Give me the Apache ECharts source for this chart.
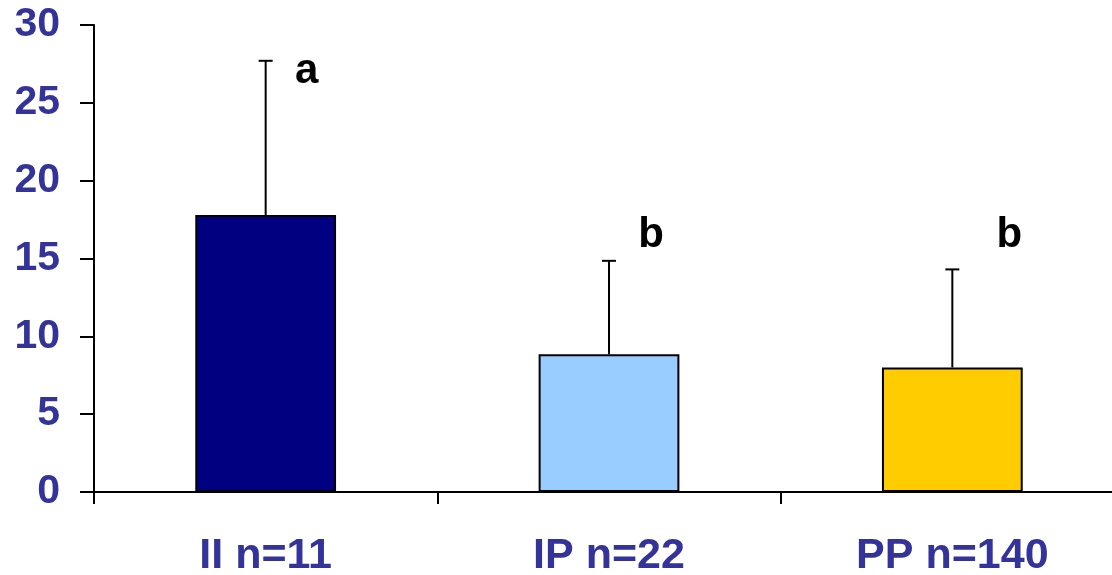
<!DOCTYPE html>
<html>
<head>
<meta charset="utf-8">
<script src="https://cdn.jsdelivr.net/npm/echarts@6/dist/echarts.min.js"></script>
<style>
  html, body { margin: 0; padding: 0; background: #fff; }
  #chart { width: 1112px; height: 575px; }
</style>
</head>
<body>
<div id="chart"></div>
<script>
// 数据
const categories = ['II n=11', 'IP n=22', 'PP n=140'];
const means = [17.8, 8.85, 8.0];
const sdUpper = [27.7, 14.85, 14.3];
const barColors = ['#000080', '#99CCFF', '#FFCC00'];
const letters = ['a', 'b', 'b'];
const letterY = [27.0, 16.5, 16.5];
const yTicks = [0, 5, 10, 15, 20, 25, 30];

const chart = echarts.init(document.getElementById('chart'));

// 字母标注的水平偏移（像素）
const letterDx = [41, 42, 57];

chart.setOption({
  animation: false,
  grid: {
    left: 94,
    right: -12,
    top: 25,
    bottom: 83,
    outerBoundsMode: 'none'
  },
  xAxis: {
    type: 'category',
    data: categories,
    axisLine: { lineStyle: { color: '#000', width: 2 } },
    axisTick: { show: true, length: 12, lineStyle: { color: '#000', width: 2 } },
    axisLabel: {
      color: '#333399',
      fontFamily: 'Liberation Sans',
      fontWeight: 'bold',
      fontSize: 43,
      margin: 43
    }
  },
  yAxis: {
    type: 'value',
    min: yTicks[0],
    max: yTicks[yTicks.length - 1],
    interval: 5,
    splitLine: { show: false },
    axisLine: { show: true, lineStyle: { color: '#000', width: 2 } },
    axisTick: { show: true, length: 14, lineStyle: { color: '#000', width: 2 } },
    axisLabel: {
      color: '#333399',
      fontFamily: 'Liberation Sans',
      fontWeight: 'bold',
      fontSize: 41,
      margin: 34
    }
  },
  series: [
    {
      type: 'bar',
      barWidth: '41%',
      data: means.map((v, i) => ({
        value: v,
        itemStyle: { color: barColors[i], borderColor: '#000', borderWidth: 2 }
      })),
      z: 2
    },
    {
      // 误差线
      type: 'custom',
      z: 3,
      data: means.map((m, i) => [i, m, sdUpper[i]]),
      renderItem: function (params, api) {
        const base = api.coord([api.value(0), api.value(1)]);
        const top = api.coord([api.value(0), api.value(2)]);
        const cap = 7;
        const style = { stroke: '#000', lineWidth: 2 };
        return {
          type: 'group',
          children: [
            { type: 'line', shape: { x1: base[0], y1: base[1], x2: top[0], y2: top[1] }, style: style },
            { type: 'line', shape: { x1: top[0] - cap, y1: top[1], x2: top[0] + cap, y2: top[1] }, style: style }
          ]
        };
      }
    },
    {
      // 显著性字母
      type: 'custom',
      z: 4,
      data: letterY.map((v, i) => [i, v]),
      renderItem: function (params, api) {
        const p = api.coord([api.value(0), api.value(1)]);
        return {
          type: 'text',
          x: p[0] + letterDx[params.dataIndex],
          y: p[1],
          style: {
            text: letters[params.dataIndex],
            fill: '#000',
            font: 'bold 42px "Liberation Sans"',
            align: 'center',
            verticalAlign: 'middle'
          }
        };
      }
    }
  ]
});
</script>
</body>
</html>
